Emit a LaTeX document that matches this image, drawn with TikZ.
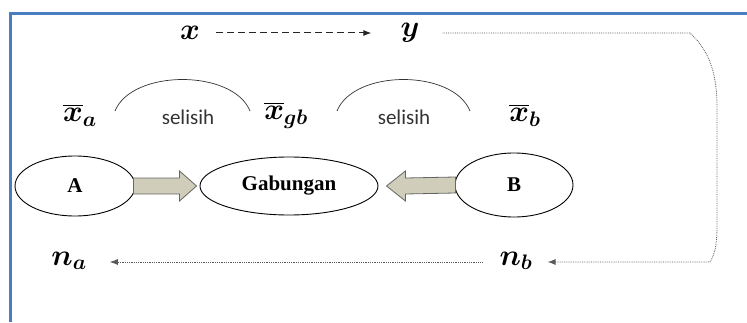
\RequirePackage{fix-cm}
\documentclass[tikz,border=0pt]{standalone}
\usepackage{fontspec}
\setmainfont{Liberation Serif}
\newfontfamily\selisihfont{Carlito}
\usepackage{amsmath,bm}
\usetikzlibrary{shapes.geometric,calc,arrows.meta}

\definecolor{framebl}{RGB}{74,126,193}
\definecolor{arrowfill}{RGB}{208,205,186}

\begin{document}
\begin{tikzpicture}[x=1pt, y=1pt,
    lbl/.style={inner sep=1pt, font=\fontsize{30}{34}\selectfont},
    oval/.style={draw, line width=0.9pt, ellipse, inner sep=0pt, font=\fontsize{21}{24}\selectfont\bfseries},
    sel/.style={inner sep=1pt, text=black!80, font=\fontsize{21}{24}\selectfont\selisihfont},
    dotline/.style={densely dotted, line width=0.8pt, black!65},
    tip/.style={-{Latex[length=8pt, width=6pt]}},
    blockarrow/.style={draw=black!60, fill=arrowfill, line width=0.8pt, line join=miter}]
    \useasboundingbox (0,0) rectangle (747,322);

    % ===== frame =====
    \draw[framebl, line width=3pt] (10,0) -- (10,308) -- (747,308);

    % ===== top row =====
    \node[lbl] (x) at (190,289) {$\bm{x}$};
    \node[lbl] (y) at (410,289) {$\bm{y}$};
    \draw[black!85, line width=1pt, dash pattern=on 7pt off 4pt, tip, shorten <=15pt, shorten >=28pt] (x.east) -- (y.west);

    % ===== means =====
    \node[lbl] (xa) at (80,207) {$\overline{\bm{x}}_{\bm{a}}$};
    \node[lbl] (xgb) at (286,207) {$\overline{\bm{x}}_{\bm{gb}}$};
    \node[lbl] (xb) at (525,207) {$\overline{\bm{x}}_{\bm{b}}$};
    \node[sel] (s1) at (188,205) {selisih};
    \node[sel] (s2) at (404,205) {selisih};
    \draw[black!80, line width=0.7pt] (115,211) .. controls (132,253) and (233,253) .. (250,211);
    \draw[black!80, line width=0.7pt] (337,211) .. controls (354,253) and (453,253) .. (470,211);

    % ===== groups =====
    \node[oval, minimum width=120pt, minimum height=60pt] (A) at (75,136) {A};
    \node[oval, minimum width=178pt, minimum height=58pt] (G) at (289,136) {Gabungan};
    \node[oval, minimum width=118pt, minimum height=64pt] (B) at (514,137) {B};

    \draw[blockarrow] ($(A.east)+(-2,8)$) -- ($(G.west)+(-20,8)$) -- ($(G.west)+(-20,15)$)
        -- ($(G.west)+(-3,0)$) -- ($(G.west)+(-20,-15)$) -- ($(G.west)+(-20,-8)$)
        -- ($(A.east)+(-2,-8)$) -- cycle;
    \draw[blockarrow] ($(B.west)+(1,8)$) -- ($(G.east)+(27,8)$) -- ($(G.east)+(27,15)$)
        -- ($(G.east)+(8,0)$) -- ($(G.east)+(27,-15)$) -- ($(G.east)+(27,-8)$)
        -- ($(B.west)+(1,-8)$) -- cycle;

    % ===== sample sizes =====
    \node[lbl] (na) at (69,61) {$\bm{n}_{\bm{a}}$};
    \node[lbl] (nb) at (516,61) {$\bm{n}_{\bm{b}}$};
    \coordinate (tr) at (690,289);
    \coordinate (br) at (710,60);
    \draw[dotline, tip, shorten >=14pt] ([xshift=22pt]y.east) -- (tr)
        .. controls (711,270) and (717,245) .. (717,215) -- (717,100)
        .. controls (717,80) and (716,70) .. (br) -- (nb.east |- br);
    \draw[dotline, tip, shorten <=16pt, shorten >=22pt] (nb.west |- br) -- (na.east |- br);
\end{tikzpicture}
\end{document}
